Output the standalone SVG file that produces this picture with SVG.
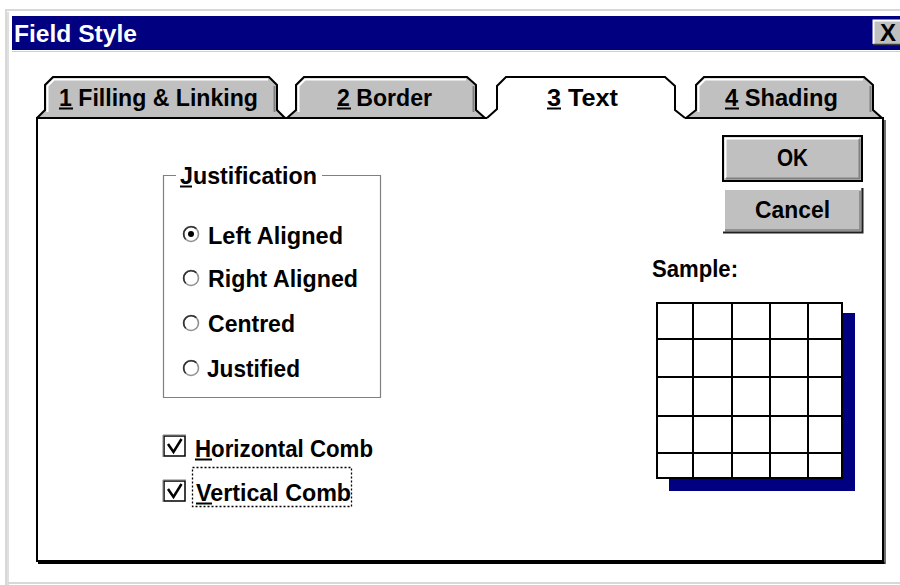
<svg xmlns="http://www.w3.org/2000/svg" width="900" height="585" viewBox="0 0 900 585">
  <style>
    .t { font-family: "Liberation Sans", Arial, sans-serif; font-weight: bold; font-size: 24px; fill: #000; }
    .w { fill: #fff; }
    .ul { stroke: #000; stroke-width: 2; }
    .tabfill { fill: #c0c0c0; }
    .edge { fill: none; stroke: #000; stroke-width: 2; stroke-linejoin: miter; }
    .hi { fill: none; stroke: #fff; stroke-width: 2; }
    .sh { fill: none; stroke: #808080; stroke-width: 2; }
    .etch { fill: none; stroke: #808080; stroke-width: 1.2; }
    .radio { fill: #fff; stroke: #909090; stroke-width: 1.6; }
    .radioarc { fill: none; stroke: #303030; stroke-width: 1.6; }
    .grid { stroke: #000; stroke-width: 2; fill: none; }
  </style>

  <!-- window background and frame -->
  <rect x="0" y="0" width="900" height="585" fill="#fff"/>
  <g id="frame">
    <line x1="5" y1="10" x2="900" y2="10" stroke="#d8d8d8" stroke-width="2"/>
    <line x1="6" y1="10" x2="6" y2="585" stroke="#d8d8d8" stroke-width="2"/>
    <line x1="8" y1="12" x2="8" y2="585" stroke="#c0c0c0" stroke-width="1"/>
    <line x1="8" y1="583" x2="900" y2="583" stroke="#d8d8d8" stroke-width="2"/>
    <line x1="12" y1="51.5" x2="900" y2="51.5" stroke="#d0d0d0" stroke-width="1"/>
  </g>

  <!-- title bar -->
  <g id="titlebar">
    <rect x="12" y="16" width="888" height="34" fill="#000080"/>
    <text class="t w" x="14" y="42" textLength="123" lengthAdjust="spacingAndGlyphs">Field Style</text>
  </g>
  <g id="close-button">
    <rect x="873" y="20" width="30" height="25" fill="#c0c0c0"/>
    <polyline points="873.5,44 873.5,20.5 900,20.5" class="hi" stroke-width="1.5"/>
    <line x1="873" y1="44.5" x2="900" y2="44.5" stroke="#404040" stroke-width="1.5"/>
    <text class="t" x="888" y="41" text-anchor="middle" font-size="24">X</text>
  </g>

  <!-- tab 1 -->
  <g id="tab-filling">
    <polygon class="tabfill" points="37,118 45,110 45,85 53,77 269,77 277,85 277,110 285,118"/>
    <polyline class="hi" points="47.5,112 47.5,86 54,79.5 268,79.5"/>
    <polyline class="sh" points="274.5,86 274.5,112"/>
    <polyline class="edge" points="37,118 45,110 45,85 53,77 269,77 277,85 277,110 285,118"/>
    <text class="t" x="59" y="106" textLength="199" lengthAdjust="spacingAndGlyphs">1 Filling &amp; Linking</text>
    <line class="ul" x1="59" y1="108.5" x2="73" y2="108.5"/>
  </g>

  <!-- tab 2 -->
  <g id="tab-border">
    <polygon class="tabfill" points="287,118 296,110 296,85 304,77 467,77 476,85 476,110 485,118"/>
    <polyline class="hi" points="298.5,112 298.5,86 305,79.5 466,79.5"/>
    <polyline class="sh" points="473.5,86 473.5,112"/>
    <polyline class="edge" points="287,118 296,110 296,85 304,77 467,77 476,85 476,110 485,118"/>
    <text class="t" x="337" y="106" textLength="95" lengthAdjust="spacingAndGlyphs">2 Border</text>
    <line class="ul" x1="337" y1="108.5" x2="351" y2="108.5"/>
  </g>

  <!-- tab 4 -->
  <g id="tab-shading">
    <polygon class="tabfill" points="686,118 696,110 696,85 704,77 864,77 873,85 873,110 882,118"/>
    <polyline class="hi" points="698.5,112 698.5,86 705,79.5 863,79.5"/>
    <polyline class="sh" points="870.5,86 870.5,112"/>
    <polyline class="edge" points="686,118 696,110 696,85 704,77 864,77 873,85 873,110 882,118"/>
    <text class="t" x="725" y="106" textLength="113" lengthAdjust="spacingAndGlyphs">4 Shading</text>
    <line class="ul" x1="725" y1="108.5" x2="739" y2="108.5"/>
  </g>

  <!-- page panel -->
  <g id="panel">
    <rect x="37" y="118" width="846" height="443" fill="#fff"/>
    <polyline class="edge" points="487,118 37,118 37,561 883,561 883,118 685,118" stroke-width="2.5"/>
    <line x1="38" y1="563" x2="885" y2="563" stroke="#000" stroke-width="2"/>
    <line x1="885" y1="120" x2="885" y2="564" stroke="#404040" stroke-width="1.5"/>
  </g>

  <!-- tab 3 (active) -->
  <g id="tab-text">
    <polygon fill="#fff" points="487,119 497,109 497,86 506,77 665,77 675,86 675,110 685,119"/>
    <polyline class="edge" points="487,118 497,109 497,86 506,77 665,77 675,86 675,110 685,118"/>
    <text class="t" x="547" y="106" textLength="71" lengthAdjust="spacingAndGlyphs">3 Text</text>
    <line class="ul" x1="547" y1="108.5" x2="561" y2="108.5"/>
  </g>

  <!-- buttons -->
  <g id="btn-ok">
    <rect x="723" y="136" width="139" height="45" fill="#c0c0c0" stroke="#000" stroke-width="2"/>
    <polyline class="hi" points="725.5,178 725.5,138.5 859,138.5"/>
    <polyline points="726,178.5 859.5,178.5 859.5,139" fill="none" stroke="#808080" stroke-width="2"/>
    <text class="t" x="777" y="166" textLength="31" lengthAdjust="spacingAndGlyphs">OK</text>
  </g>
  <g id="btn-cancel">
    <rect x="723" y="188" width="139" height="45" fill="#c0c0c0"/>
    <polyline class="hi" points="724,232 724,189 861,189"/>
    <polyline points="723,232.5 862.5,232.5 862.5,188" fill="none" stroke="#202020" stroke-width="2"/>
    <polyline points="725,230 860,230 860,191" fill="none" stroke="#808080" stroke-width="1.5"/>
    <text class="t" x="755" y="218" textLength="75" lengthAdjust="spacingAndGlyphs">Cancel</text>
  </g>

  <!-- justification group -->
  <g id="justification">
    <polyline class="etch" points="176,175.5 163.5,175.5 163.5,397.5 380.5,397.5 380.5,175.5 322,175.5"/>
    <text class="t" x="180" y="184" textLength="137" lengthAdjust="spacingAndGlyphs">Justification</text>
    <line class="ul" x1="180" y1="186.5" x2="192" y2="186.5"/>
  </g>
  <g id="radio-left">
    <circle class="radio" cx="191" cy="234" r="7.5"/>
    <path class="radioarc" d="M185.7,239.3 A7.5,7.5 0 0 1 196.3,228.7"/>
    <circle cx="191" cy="234" r="3" fill="#000"/>
    <text class="t" x="208" y="244" textLength="135" lengthAdjust="spacingAndGlyphs">Left Aligned</text>
  </g>
  <g id="radio-right">
    <circle class="radio" cx="191" cy="278" r="7.5"/>
    <path class="radioarc" d="M185.7,283.3 A7.5,7.5 0 0 1 196.3,272.7"/>
    <text class="t" x="208" y="287" textLength="150" lengthAdjust="spacingAndGlyphs">Right Aligned</text>
  </g>
  <g id="radio-centred">
    <circle class="radio" cx="191" cy="323" r="7.5"/>
    <path class="radioarc" d="M185.7,328.3 A7.5,7.5 0 0 1 196.3,317.7"/>
    <text class="t" x="208" y="332" textLength="87" lengthAdjust="spacingAndGlyphs">Centred</text>
  </g>
  <g id="radio-justified">
    <circle class="radio" cx="191" cy="368" r="7.5"/>
    <path class="radioarc" d="M185.7,373.3 A7.5,7.5 0 0 1 196.3,362.7"/>
    <text class="t" x="207" y="377" textLength="93" lengthAdjust="spacingAndGlyphs">Justified</text>
  </g>

  <!-- check boxes -->
  <g id="check-horizontal">
    <rect x="164" y="436" width="21" height="20" fill="#fff" stroke="#000" stroke-width="1.5"/>
    <polyline points="163,457 163,435 186,435" fill="none" stroke="#808080" stroke-width="1"/>
    <polyline points="168,444 173.5,452 181.5,439" fill="none" stroke="#000" stroke-width="2.5"/>
    <text class="t" x="195" y="457" textLength="178" lengthAdjust="spacingAndGlyphs">Horizontal Comb</text>
    <line class="ul" x1="195" y1="459.5" x2="212" y2="459.5"/>
  </g>
  <g id="check-vertical">
    <rect x="164" y="481" width="21" height="20" fill="#fff" stroke="#000" stroke-width="1.5"/>
    <polyline points="163,502 163,480 186,480" fill="none" stroke="#808080" stroke-width="1"/>
    <polyline points="168,489 173.5,497 181.5,484" fill="none" stroke="#000" stroke-width="2.5"/>
    <text class="t" x="196" y="501" textLength="155" lengthAdjust="spacingAndGlyphs">Vertical Comb</text>
    <line class="ul" x1="196" y1="503.5" x2="212" y2="503.5"/>
    <rect x="192.5" y="467.5" width="159" height="39" fill="none" stroke="#000" stroke-width="1.3" stroke-dasharray="2 2"/>
  </g>

  <!-- sample preview -->
  <g id="sample">
    <text class="t" x="652" y="277" textLength="86" lengthAdjust="spacingAndGlyphs">Sample:</text>
    <rect x="669" y="313" width="186" height="178" fill="#000080"/>
    <rect x="657" y="303" width="185" height="175" fill="#fff"/>
    <path class="grid" d="M693,303V478M732,303V478M770,303V478M808,303V478M657,339H842M657,377H842M657,416H842M657,453H842"/>
    <rect class="grid" x="657" y="303" width="185" height="175"/>
  </g>
</svg>
